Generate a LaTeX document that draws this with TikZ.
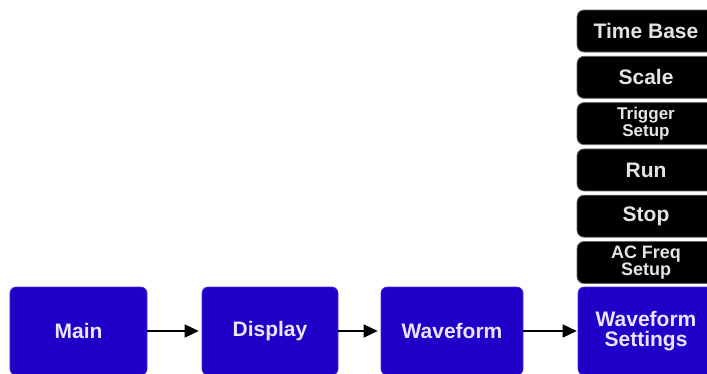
\documentclass[tikz,border=0pt]{standalone}
\usepackage{fontspec}
\setmainfont{Liberation Sans}
\usepackage{tikz}
\usetikzlibrary{positioning,arrows.meta}
\definecolor{MenuBlue}{HTML}{1E00C8}
\definecolor{MenuBlack}{HTML}{000000}
\definecolor{PaleText}{HTML}{E8E6FF}
\definecolor{GreyText}{HTML}{E4E4E4}

\begin{document}
\begin{tikzpicture}[
    x=1bp, y=-1bp,
    every node/.style={font=\bfseries\fontsize{21bp}{20bp}\selectfont},
    menubox/.style={rectangle, draw=MenuBlue!80!white, fill=MenuBlue, line width=0.6bp, rounded corners=6bp, minimum height=88bp, text=PaleText, align=center, inner sep=0pt},
    subbox/.style={rectangle, draw=black!60, fill=MenuBlack, line width=0.8bp, rounded corners=7bp, minimum width=138bp, minimum height=42bp, text=GreyText, align=center, inner sep=0pt},
    smalltext/.style={font=\bfseries\fontsize{17bp}{16.5bp}\selectfont},
    arrow/.style={-{Triangle[length=14bp,width=13bp]}, line width=1.6bp, color=black, shorten >=3bp}
  ]
    \useasboundingbox (0,0) rectangle (707,373);
    \clip (0,0) rectangle (707,373);

    % Main menu row (bottom)
    \node[menubox, minimum width=137bp] (main) at (78.5,331) {Main};
    \node[menubox, minimum width=136bp] (display) at (270,331) {Display};
    \node[menubox, minimum width=142bp] (waveform) at (452,331) {Waveform};
    \node[menubox, minimum width=136bp] (wfset) at (646,331) {Waveform\\Settings};

    % Settings sub-menu (stacked above)
    \node[subbox] (timebase) at (646,31) {Time Base};
    \node[subbox] (scale) at (646,77.3) {Scale};
    \node[subbox, smalltext] (trigger) at (646,123.6) {Trigger\\Setup};
    \node[subbox] (run) at (646,169.9) {Run};
    \node[subbox] (stop) at (646,216.2) {Stop};
    \node[subbox, smalltext, font=\bfseries\fontsize{18bp}{17bp}\selectfont] (acfreq) at (646,262.5) {AC Freq\\Setup};

    % Connections along the row
    \draw[arrow] (main) -- (display);
    \draw[arrow] (display) -- (waveform);
    \draw[arrow, shorten >=1bp] (waveform) -- (wfset);

  \end{tikzpicture}
\end{document}
